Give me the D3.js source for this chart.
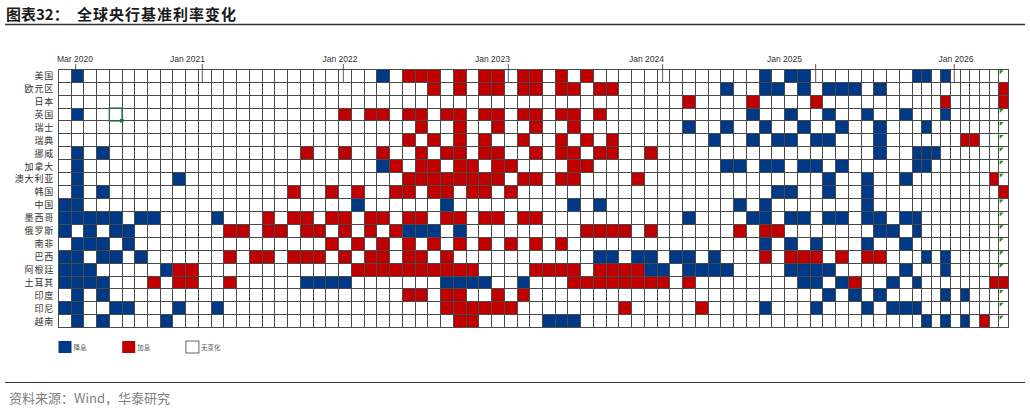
<!DOCTYPE html>
<html lang="zh">
<head>
<meta charset="UTF-8">
<title>全球央行基准利率变化</title>
<script src="https://d3js.org/d3.v7.min.js"></script>
<style>
  body { margin: 0; background: #fff; }
  text { font-family: "Noto Sans CJK SC", "Liberation Sans", sans-serif; }
</style>
</head>
<body>
<script>
// rows of the grid
const countries = ["美国", "欧元区", "日本", "英国", "瑞士", "瑞典", "挪威", "加拿大", "澳大利亚", "韩国",
                   "中国", "墨西哥", "俄罗斯", "南非", "巴西", "阿根廷", "土耳其", "印度", "印尼", "越南"];

// one column per month, Feb 2020 .. Jun 2026
const months = d3.timeMonth.range(new Date(2020, 1, 1), new Date(2026, 6, 1));

// month index (0 = Feb 2020) of each cut, per country
const cutMonths = [
  [1, 25, 55, 57, 58, 67, 68, 70],
  [52, 55, 56, 58, 60, 61, 62, 64],
  [],
  [1, 54, 57, 60, 63, 66, 70],
  [49, 52, 55, 58, 61, 64, 68],
  [51, 54, 56, 57, 59, 60, 64],
  [1, 3, 64, 67, 68, 69],
  [1, 25, 52, 53, 55, 56, 58, 59, 61, 67, 68],
  [1, 9, 60, 63, 66],
  [1, 3, 56, 57, 60, 63],
  [0, 1, 23, 30, 40, 42, 53, 55, 63],
  [0, 1, 2, 3, 4, 6, 7, 12, 49, 54, 55, 57, 58, 60, 61, 63, 64, 66, 67],
  [0, 2, 4, 5, 27, 28, 29, 31, 64, 65, 67],
  [1, 2, 3, 5, 55, 57, 59, 63, 66],
  [0, 1, 3, 4, 6, 42, 43, 45, 46, 48, 49, 51, 68, 70],
  [0, 1, 2, 8, 46, 47, 49, 50, 51, 52, 57, 58, 59, 60, 66, 70],
  [0, 1, 2, 3, 19, 20, 21, 22, 30, 31, 32, 33, 36, 58, 59, 61, 65, 67],
  [1, 3, 60, 62, 64, 70, 72],
  [0, 1, 4, 5, 9, 12, 55, 59, 63, 65, 66, 67],
  [1, 3, 8, 38, 39, 40, 68, 70, 72]
];

// month index of each hike, per country
const hikeMonths = [
  [27, 28, 29, 31, 33, 34, 36, 37, 39, 41],
  [29, 31, 33, 34, 36, 37, 39, 40, 42, 43, 76],
  [49, 54, 59, 70, 76],
  [22, 24, 25, 27, 28, 30, 31, 33, 34, 36, 37, 39, 40, 42],
  [28, 31, 34, 37, 40],
  [27, 29, 31, 33, 36, 39, 41, 43, 72, 73],
  [19, 22, 25, 28, 30, 31, 33, 34, 37, 39, 40, 42, 43, 46],
  [26, 28, 29, 31, 32, 34, 35, 40, 41],
  [27, 28, 29, 30, 31, 32, 33, 34, 36, 37, 39, 40, 45, 75],
  [18, 21, 23, 26, 27, 29, 30, 32, 33, 35, 76],
  [],
  [16, 18, 19, 21, 22, 24, 25, 27, 28, 30, 31, 33, 34, 36, 37],
  [13, 14, 16, 17, 19, 20, 22, 24, 26, 41, 42, 43, 44, 46, 53, 55, 56],
  [21, 23, 25, 27, 29, 31, 33, 35, 37, 39],
  [13, 15, 16, 18, 19, 20, 22, 24, 25, 27, 28, 30, 55, 57, 58, 59, 61, 63, 64],
  [9, 10, 23, 24, 25, 26, 27, 28, 29, 30, 31, 32, 37, 38, 39, 40, 42, 43, 44, 45],
  [7, 9, 10, 13, 40, 41, 42, 43, 44, 45, 46, 47, 49, 62, 75, 76],
  [27, 28, 30, 31, 34, 36],
  [30, 31, 32, 33, 34, 35, 44, 50],
  [31, 32, 74]
];

// header ticks (month position) and their labels
const tickLabels = ["Mar 2020", "Jan 2021", "Jan 2022", "Jan 2023", "Jan 2024", "Jan 2025", "Jan 2026"];
const tickAt = [1.36, 11.3, 22.37, 35.32, 47.43, 59.44, 71.39];
const labelAt = [1.31, 10.14, 22.11, 34.08, 46.16, 56.99, 71.57];

const legendLabels = ["降息", "加息", "无变化"];

const W = 1030, H = 410;
const BLUE = "#003a86", RED = "#c00000";

const svg = d3.select("body").append("svg")
  .attr("width", W).attr("height", H);

// title
svg.append("text").attr("x", 6).attr("y", 20)
  .style("font-size", "15px").style("font-weight", "bold").attr("fill", "#1a1a1a")
  .text("图表32：");
svg.append("text").attr("x", 77).attr("y", 20)
  .style("font-size", "15px").style("font-weight", "bold").attr("fill", "#1a1a1a")
  .attr("letter-spacing", "1px")
  .text("全球央行基准利率变化");
svg.append("line").attr("x1", 5).attr("x2", 1025).attr("y1", 24.5).attr("y2", 24.5)
  .attr("stroke", "#333").attr("stroke-width", 1.5);

// later months got narrower columns in the source sheet
const x = d3.scaleLinear().domain([0, 67, months.length]).range([58.3, 912, 1008.3]);
const y = d3.scaleBand().domain(countries).range([69.3, 327.7]);

const cells = [];
countries.forEach((c, i) => {
  months.forEach((m, k) => {
    let s = 0;
    if (cutMonths[i].includes(k)) s = -1;
    if (hikeMonths[i].includes(k)) s = 1;
    cells.push({country: c, k: k, s: s});
  });
});

const grid = svg.append("g").attr("shape-rendering", "crispEdges");
grid.selectAll("rect")
  .data(cells).join("rect")
  .attr("x", d => x(d.k))
  .attr("y", d => y(d.country))
  .attr("width", d => x(d.k + 1) - x(d.k))
  .attr("height", y.bandwidth())
  .attr("fill", d => d.s < 0 ? BLUE : d.s > 0 ? RED : "#fff")
  .attr("stroke", "#4a4a4a")
  .attr("stroke-width", 1);

// excel error markers in the last column
const last = months.length - 1;
svg.append("g").selectAll("path")
  .data(cells.filter(d => d.k === last && d.s === 0)).join("path")
  .attr("d", d => {
    const x0 = x(d.k) + 1, y0 = y(d.country) + 1;
    return `M${x0},${y0}L${x0 + 4},${y0}L${x0},${y0 + 4}Z`;
  })
  .attr("fill", "#1f8a1f");

// excel selection box
const sel = cells.find(d => d.country === "英国" && d.k === 4);
svg.append("rect")
  .attr("x", x(sel.k)).attr("y", y(sel.country))
  .attr("width", x(sel.k + 1) - x(sel.k)).attr("height", y.bandwidth())
  .attr("fill", "none").attr("stroke", "#217346").attr("stroke-width", 1.2);
svg.append("rect")
  .attr("x", x(sel.k + 1) - 2).attr("y", y(sel.country) + y.bandwidth() - 2)
  .attr("width", 3.5).attr("height", 3.5).attr("fill", "#217346");

// header ticks
svg.append("g").selectAll("line")
  .data(tickAt).join("line")
  .attr("x1", d => x(d)).attr("x2", d => x(d))
  .attr("y1", 64).attr("y2", 82)
  .attr("stroke", "#333").attr("stroke-width", 0.8);
svg.append("g").selectAll("text")
  .data(tickLabels).join("text")
  .attr("x", (d, i) => x(labelAt[i]))
  .attr("y", 62)
  .attr("text-anchor", "middle")
  .style("font-family", "'Liberation Sans Narrow', 'Liberation Sans', Arial, sans-serif")
  .style("font-size", "8.5px")
  .attr("fill", "#333")
  .text(d => d);

// row labels
svg.append("g").selectAll("text")
  .data(countries).join("text")
  .attr("x", 54)
  .attr("y", d => y(d) + y.bandwidth() / 2 + 3.3)
  .attr("text-anchor", "end")
  .style("font-size", "9px")
  .attr("letter-spacing", "0.8px")
  .attr("fill", "#333")
  .text(d => d);

// legend
const legendFill = [BLUE, RED, "#fff"];
const lg = svg.append("g").selectAll("g")
  .data(legendLabels).join("g")
  .attr("transform", (d, i) => `translate(${58.5 + i * 63.7},341)`);
lg.append("rect")
  .attr("width", 13).attr("height", 12)
  .attr("fill", (d, i) => legendFill[i])
  .attr("stroke", (d, i) => i === 2 ? "#666" : "none")
  .attr("stroke-width", 1);
lg.append("text")
  .attr("x", 15).attr("y", 8.5)
  .style("font-size", "6.5px")
  .attr("fill", "#555")
  .text(d => d);

// source
svg.append("line").attr("x1", 5).attr("x2", 1025).attr("y1", 382.5).attr("y2", 382.5)
  .attr("stroke", "#333").attr("stroke-width", 1.2);
svg.append("text").attr("x", 9).attr("y", 403)
  .style("font-size", "13px").attr("fill", "#808080")
  .text("资料来源：Wind，华泰研究");
</script>
</body>
</html>
